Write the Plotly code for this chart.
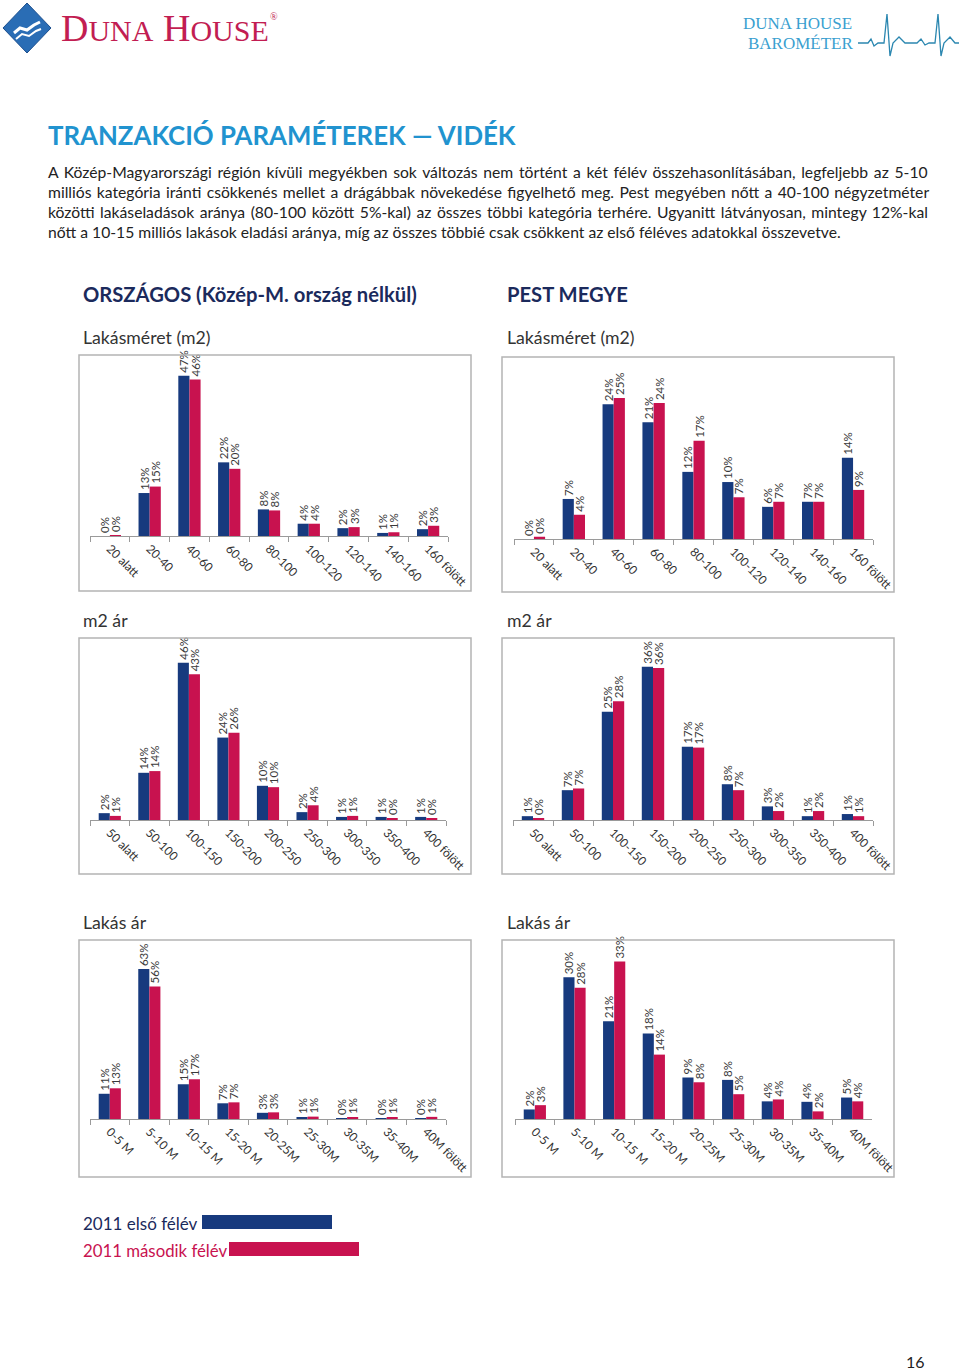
import plotly.graph_objects as go

W, H = 960, 1371

# ---------------- data ----------------
cat_size = ["20 alatt", "20-40", "40-60", "60-80", "80-100", "100-120", "120-140", "140-160", "160 fölött"]
cat_m2 = ["50 alatt", "50-100", "100-150", "150-200", "200-250", "250-300", "300-350", "350-400", "400 fölött"]
cat_price = ["0-5 M", "5-10 M", "10-15 M", "15-20 M", "20-25M", "25-30M", "30-35M", "35-40M", "40M fölött"]

orsz_size_h1 = [0.0, 12.6, 47.0, 21.6, 7.8, 3.6, 2.3, 0.9, 2.0]
orsz_size_h2 = [0.2, 14.5, 45.9, 19.7, 7.5, 3.6, 2.6, 1.1, 3.0]
pest_size_h1 = [0.0, 7.1, 23.9, 20.7, 11.9, 10.1, 5.7, 6.6, 14.4]
pest_size_h2 = [0.4, 4.3, 25.0, 24.1, 17.4, 7.4, 6.6, 6.6, 8.7]

orsz_m2_h1 = [2.0, 13.8, 46.0, 24.1, 10.0, 2.3, 0.9, 0.9, 0.9]
orsz_m2_h2 = [1.2, 14.3, 42.6, 25.5, 9.6, 4.3, 1.2, 0.3, 0.3]
pest_m2_h1 = [0.9, 7.0, 25.4, 36.0, 17.2, 8.4, 3.2, 0.9, 1.4]
pest_m2_h2 = [0.4, 7.4, 27.9, 35.7, 17.0, 7.0, 2.1, 2.1, 0.9]

orsz_price_h1 = [10.6, 63.0, 14.6, 6.6, 2.6, 0.6, 0.1, 0.4, 0.1]
orsz_price_h2 = [12.9, 55.7, 16.7, 7.0, 2.8, 1.0, 0.6, 0.6, 0.9]
pest_price_h1 = [2.0, 29.7, 20.5, 17.9, 8.7, 8.2, 3.7, 3.6, 4.5]
pest_price_h2 = [2.9, 27.5, 33.0, 13.5, 7.7, 5.2, 4.1, 1.6, 3.7]

series_names = ["2011 első félév", "2011 második félév"]

NAVY = "#173a7e"
CRIMSON = "#c8124f"
FONT = "Lato"

# ---------------- layout geometry (pixels) ----------------
def X(px):
    return px / W

def Y(py):
    return 1 - py / H

# (categories, h1, h2, axis x0, axis x1, baseline px, px per %, box x0, box x1, box y0, box y1)
charts = [
    (cat_size, orsz_size_h1, orsz_size_h2, 90, 448, 536, 3.41, 79, 471, 355, 591),
    (cat_size, pest_size_h1, pest_size_h2, 514, 873, 539, 5.64, 502, 894, 357, 592),
    (cat_m2, orsz_m2_h1, orsz_m2_h2, 90, 446, 820, 3.42, 79, 471, 638, 874),
    (cat_m2, pest_m2_h1, pest_m2_h2, 513, 873, 820, 4.26, 502, 894, 638, 874),
    (cat_price, orsz_price_h1, orsz_price_h2, 90, 446, 1119, 2.38, 79, 471, 940, 1177),
    (cat_price, pest_price_h1, pest_price_h2, 515, 872, 1119, 4.77, 502, 894, 940, 1177),
]

fig = go.Figure()
layout_axes = {}
shapes = []

for i, (cats, h1, h2, ax0, ax1, base, scale, bx0, bx1, by0, by1) in enumerate(charts, start=1):
    xa = "x" if i == 1 else f"x{i}"
    ya = "y" if i == 1 else f"y{i}"
    for vals, col, name in ((h1, NAVY, series_names[0]), (h2, CRIMSON, series_names[1])):
        fig.add_trace(go.Bar(
            x=cats, y=vals, name=name, marker=dict(color=col, line=dict(width=0)),
            xaxis=xa, yaxis=ya, showlegend=False,
            texttemplate="%{y:.0f}%", textposition="outside", textangle=-90,
            constraintext="none", cliponaxis=False,
            textfont=dict(family=FONT, size=11.5, color="#3a3a3a"),
        ))
    top = by0 + 4
    layout_axes["xaxis" if i == 1 else f"xaxis{i}"] = dict(
        domain=[X(ax0), X(ax1)], anchor=ya, type="category", automargin=False,
        showline=True, linecolor="#9a9a9a", linewidth=1,
        ticks="outside", tickson="boundaries", ticklen=5, tickcolor="#9a9a9a",
        tickangle=45, tickfont=dict(family=FONT, size=12, color="#333333"),
        showgrid=False, zeroline=False, fixedrange=True,
    )
    layout_axes["yaxis" if i == 1 else f"yaxis{i}"] = dict(
        domain=[Y(base), Y(top)], range=[0, (base - top) / scale], automargin=False,
        visible=False, fixedrange=True, anchor=xa,
    )
    shapes.append(dict(type="rect", xref="paper", yref="paper",
                       x0=X(bx0), x1=X(bx1), y0=Y(by1), y1=Y(by0),
                       line=dict(color="#b4b4b4", width=1.5), fillcolor="rgba(0,0,0,0)"))

# ---------------- header decorations ----------------
def path(points, close=False):
    s = "M " + " L ".join(f"{X(px):.5f},{Y(py):.5f}" for px, py in points)
    return s + (" Z" if close else "")

shapes.append(dict(type="path", xref="paper", yref="paper",
                   path=path([(3, 28), (27, 3), (51, 28), (27, 53)], close=True),
                   fillcolor="#2a6db5", line=dict(color="#1c4f8f", width=1)))
shapes.append(dict(type="path", xref="paper", yref="paper",
                   path=path([(14, 33), (20, 28), (27, 30), (34, 25), (40, 22)]),
                   line=dict(color="white", width=3)))
shapes.append(dict(type="path", xref="paper", yref="paper",
                   path=path([(16, 39), (22, 34), (29, 36), (36, 31), (41, 29)]),
                   line=dict(color="white", width=2)))
hb = [(858, 43), (868, 43), (871, 39), (874, 46), (878, 43), (884, 43), (887, 14), (890, 56),
      (893, 43), (899, 37), (905, 43), (917, 43), (921, 39), (925, 45), (929, 43), (935, 43),
      (938, 14), (941, 56), (944, 43), (950, 37), (955, 43), (959, 43)]
shapes.append(dict(type="path", xref="paper", yref="paper", path=path(hb),
                   line=dict(color="#2b87b0", width=1.3)))

shapes.append(dict(type="rect", xref="paper", yref="paper", x0=X(202), x1=X(332), y0=Y(1229), y1=Y(1215),
                   fillcolor=NAVY, line=dict(width=0)))
shapes.append(dict(type="rect", xref="paper", yref="paper", x0=X(229), x1=X(359), y0=Y(1256), y1=Y(1242),
                   fillcolor=CRIMSON, line=dict(width=0)))

# ---------------- text ----------------
annotations = []

def txt(text, px, py, size, color, bold=False, family=FONT, xanchor="left"):
    if bold:
        text = f"<b>{text}</b>"
    annotations.append(dict(text=text, x=X(px), y=Y(py), xref="paper", yref="paper",
                            xanchor=xanchor, yanchor="middle", showarrow=False,
                            font=dict(family=family, size=size, color=color)))

annotations.append(dict(
    text="D<span style='font-size:30px'>UNA</span> H<span style='font-size:30px'>OUSE</span>",
    x=X(59), y=Y(28), xref="paper", yref="paper", xanchor="left", yanchor="middle", showarrow=False,
    font=dict(family="Liberation Serif", size=38, color="#c21d52")))
txt("®", 268, 16, 10, "#c21d52", family="Liberation Serif")
txt("DUNA HOUSE", 741, 24, 17, "#3a9fd0", family="Liberation Serif")
txt("BAROMÉTER", 746, 44, 17, "#3a9fd0", family="Liberation Serif")

txt("TRANZAKCIÓ PARAMÉTEREK — VIDÉK", 46, 135, 25.8, "#2193cf", bold=True)

para = [
    "A Közép-Magyarországi régión kívüli megyékben sok változás nem történt a két félév összehasonlításában, legfeljebb az 5-10",
    "milliós kategória iránti csökkenés mellet a drágábbak növekedése figyelhető meg. Pest megyében nőtt a 40-100 négyzetméter",
    "közötti lakáseladások aránya (80-100 között 5%-kal) az összes többi kategória terhére. Ugyanitt látványosan, mintegy 12%-kal",
    "nőtt a 10-15 milliós lakások eladási aránya, míg az összes többié csak csökkent az első féléves adatokkal összevetve.",
]
word_spacing = [1.7, 1.3, 1.5, 0]  # emulate justified text of the first three lines
for k, line in enumerate(para):
    t = f"<span style='word-spacing:{word_spacing[k]}px'>{line}</span>" if word_spacing[k] else line
    txt(t, 46, 172 + 20 * k, 15.7, "#222222")

txt("ORSZÁGOS (Közép-M. ország nélkül)", 81, 294, 20.2, "#1b2a5c", bold=True)
txt("PEST MEGYE", 505, 294, 20.2, "#1b2a5c", bold=True)
for px in (81, 505):
    txt("Lakásméret (m2)", px, 338, 17.7, "#333333")
    txt("m2 ár", px, 620, 17.7, "#333333")
    txt("Lakás ár", px, 922, 17.7, "#333333")

txt(series_names[0], 81, 1223, 17, "#1b2a5c")
txt(series_names[1], 81, 1250, 16.8, CRIMSON)

txt("16", 927, 1361, 16, "#222222", xanchor="right")

fig.update_layout(
    width=W, height=H, margin=dict(l=0, r=0, t=0, b=0, pad=0, autoexpand=False), autosize=False,
    paper_bgcolor="white", plot_bgcolor="rgba(0,0,0,0)",
    barmode="group", bargap=0.44, bargroupgap=0,
    shapes=shapes, annotations=annotations, showlegend=False,
    font=dict(family=FONT),
    **layout_axes,
)

fig.write_html(
    "out.html",
    config={"responsive": False, "displayModeBar": False},
    post_script="document.body.style.margin='0';document.body.style.padding='0';document.body.style.overflow='hidden';",
)
